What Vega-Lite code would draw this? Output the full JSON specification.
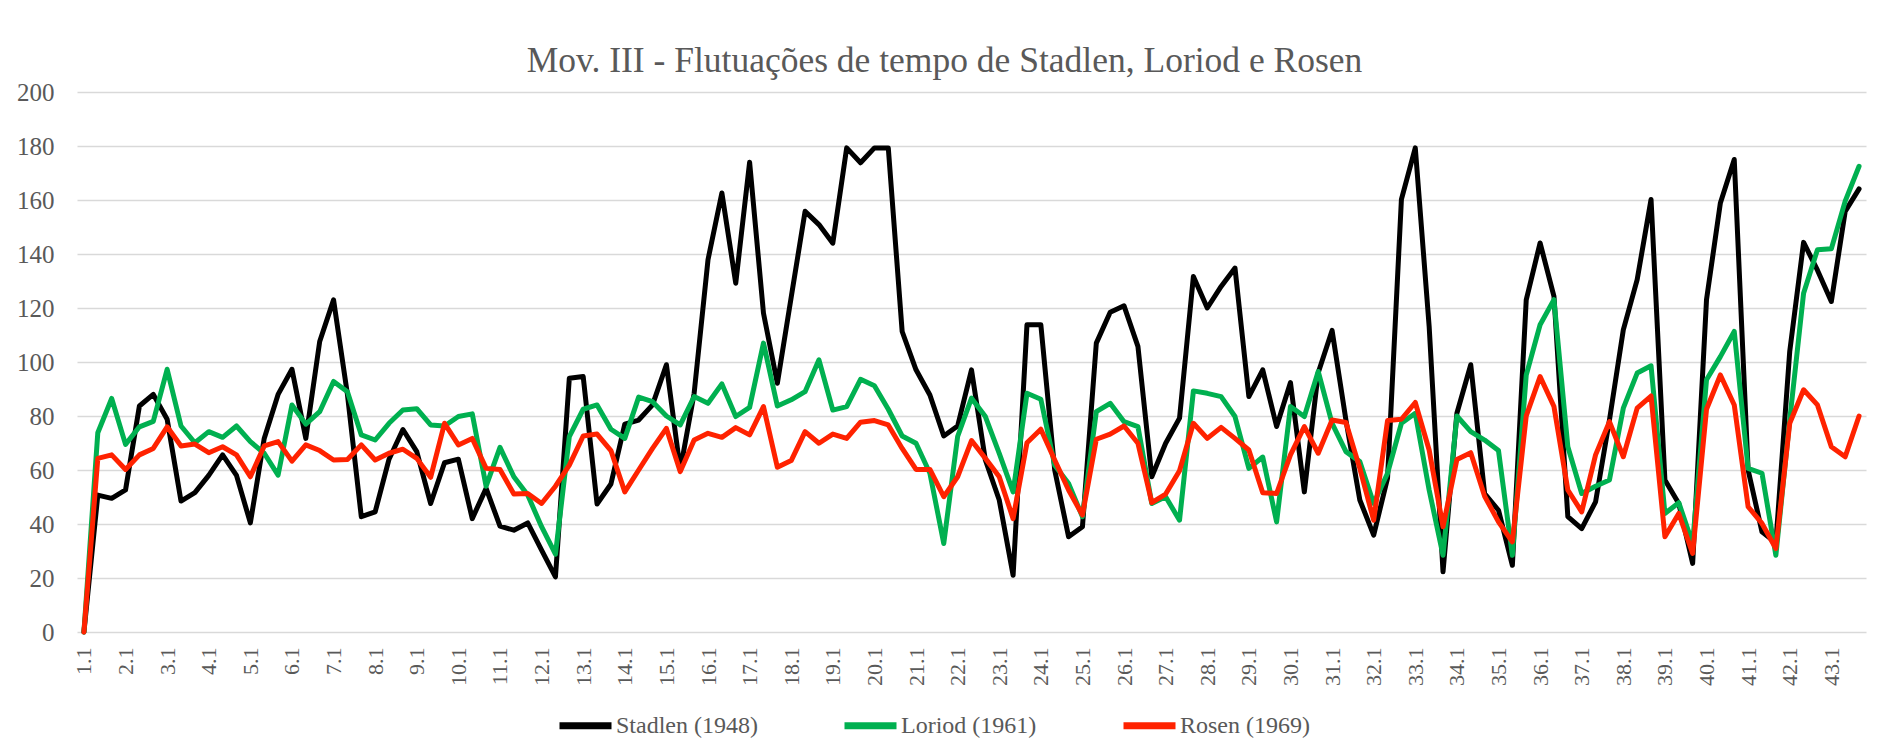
{
  "$schema": "https://vega.github.io/schema/vega-lite/v6.json",
  "width": 1789,
  "height": 540,
  "autosize": {"type": "none"},
  "padding": {"left": 77, "top": 92, "right": 12, "bottom": 107},
  "background": "white",
  "title": {
    "text": "Mov. III - Flutuações de tempo de Stadlen, Loriod e Rosen",
    "anchor": "middle",
    "frame": "group",
    "dx": -27,
    "offset": 1,
    "font": "Liberation Serif",
    "fontSize": 35.5,
    "fontWeight": "normal",
    "color": "#595959"
  },
  "data": {
    "values": [
      {"b": "1.1", "Stadlen (1948)": 0, "Loriod (1961)": 0, "Rosen (1969)": 0},
      {"b": "1.2", "Stadlen (1948)": 50.7, "Loriod (1961)": 73.8, "Rosen (1969)": 64.3},
      {"b": "1.3", "Stadlen (1948)": 49.5, "Loriod (1961)": 86.5, "Rosen (1969)": 65.6},
      {"b": "2.1", "Stadlen (1948)": 52.6, "Loriod (1961)": 69.5, "Rosen (1969)": 60.2},
      {"b": "2.2", "Stadlen (1948)": 83.7, "Loriod (1961)": 76, "Rosen (1969)": 65.6},
      {"b": "2.3", "Stadlen (1948)": 88, "Loriod (1961)": 78, "Rosen (1969)": 68},
      {"b": "3.1", "Stadlen (1948)": 78.8, "Loriod (1961)": 97.3, "Rosen (1969)": 76},
      {"b": "3.2", "Stadlen (1948)": 48.5, "Loriod (1961)": 76.3, "Rosen (1969)": 68.9},
      {"b": "3.3", "Stadlen (1948)": 51.6, "Loriod (1961)": 70.1, "Rosen (1969)": 69.6},
      {"b": "4.1", "Stadlen (1948)": 58, "Loriod (1961)": 74.2, "Rosen (1969)": 66.4},
      {"b": "4.2", "Stadlen (1948)": 65.6, "Loriod (1961)": 72.1, "Rosen (1969)": 68.6},
      {"b": "4.3", "Stadlen (1948)": 58, "Loriod (1961)": 76.3, "Rosen (1969)": 65.6},
      {"b": "5.1", "Stadlen (1948)": 40.4, "Loriod (1961)": 70.5, "Rosen (1969)": 57.5},
      {"b": "5.2", "Stadlen (1948)": 71.7, "Loriod (1961)": 66.2, "Rosen (1969)": 68.9},
      {"b": "5.3", "Stadlen (1948)": 88, "Loriod (1961)": 58.1, "Rosen (1969)": 70.5},
      {"b": "6.1", "Stadlen (1948)": 97.3, "Loriod (1961)": 84.1, "Rosen (1969)": 63.3},
      {"b": "6.2", "Stadlen (1948)": 71.7, "Loriod (1961)": 77, "Rosen (1969)": 69.3},
      {"b": "6.3", "Stadlen (1948)": 107.6, "Loriod (1961)": 81.6, "Rosen (1969)": 67.2},
      {"b": "7.1", "Stadlen (1948)": 123, "Loriod (1961)": 92.8, "Rosen (1969)": 63.7},
      {"b": "7.2", "Stadlen (1948)": 88, "Loriod (1961)": 89, "Rosen (1969)": 63.9},
      {"b": "7.3", "Stadlen (1948)": 42.7, "Loriod (1961)": 73, "Rosen (1969)": 69.3},
      {"b": "8.1", "Stadlen (1948)": 44.5, "Loriod (1961)": 71.1, "Rosen (1969)": 63.7},
      {"b": "8.2", "Stadlen (1948)": 64, "Loriod (1961)": 77.3, "Rosen (1969)": 66.2},
      {"b": "8.3", "Stadlen (1948)": 75, "Loriod (1961)": 82.2, "Rosen (1969)": 67.7},
      {"b": "9.1", "Stadlen (1948)": 66.8, "Loriod (1961)": 82.7, "Rosen (1969)": 64.3},
      {"b": "9.2", "Stadlen (1948)": 47.6, "Loriod (1961)": 76.7, "Rosen (1969)": 57.3},
      {"b": "9.3", "Stadlen (1948)": 62.7, "Loriod (1961)": 76.3, "Rosen (1969)": 77.3},
      {"b": "10.1", "Stadlen (1948)": 64, "Loriod (1961)": 79.8, "Rosen (1969)": 69.3},
      {"b": "10.2", "Stadlen (1948)": 42, "Loriod (1961)": 80.8, "Rosen (1969)": 71.7},
      {"b": "10.3", "Stadlen (1948)": 53.2, "Loriod (1961)": 54, "Rosen (1969)": 60.6},
      {"b": "11.1", "Stadlen (1948)": 39.2, "Loriod (1961)": 68.4, "Rosen (1969)": 60.2},
      {"b": "11.2", "Stadlen (1948)": 37.7, "Loriod (1961)": 57.5, "Rosen (1969)": 51.1},
      {"b": "11.3", "Stadlen (1948)": 40.4, "Loriod (1961)": 50.7, "Rosen (1969)": 51.3},
      {"b": "12.1", "Stadlen (1948)": 30.3, "Loriod (1961)": 39, "Rosen (1969)": 47.6},
      {"b": "12.2", "Stadlen (1948)": 20.4, "Loriod (1961)": 28.8, "Rosen (1969)": 54},
      {"b": "12.3", "Stadlen (1948)": 94, "Loriod (1961)": 72.4, "Rosen (1969)": 61.8},
      {"b": "13.1", "Stadlen (1948)": 94.6, "Loriod (1961)": 82.5, "Rosen (1969)": 72.6},
      {"b": "13.2", "Stadlen (1948)": 47.4, "Loriod (1961)": 84.1, "Rosen (1969)": 73.3},
      {"b": "13.3", "Stadlen (1948)": 54.8, "Loriod (1961)": 75.1, "Rosen (1969)": 67.2},
      {"b": "14.1", "Stadlen (1948)": 77, "Loriod (1961)": 71.7, "Rosen (1969)": 51.9},
      {"b": "14.2", "Stadlen (1948)": 78.5, "Loriod (1961)": 87, "Rosen (1969)": 60},
      {"b": "14.3", "Stadlen (1948)": 84.1, "Loriod (1961)": 85.3, "Rosen (1969)": 68},
      {"b": "15.1", "Stadlen (1948)": 99, "Loriod (1961)": 80, "Rosen (1969)": 75.4},
      {"b": "15.2", "Stadlen (1948)": 60, "Loriod (1961)": 76.7, "Rosen (1969)": 59.4},
      {"b": "15.3", "Stadlen (1948)": 88.4, "Loriod (1961)": 87.2, "Rosen (1969)": 71.1},
      {"b": "16.1", "Stadlen (1948)": 137.9, "Loriod (1961)": 84.7, "Rosen (1969)": 73.6},
      {"b": "16.2", "Stadlen (1948)": 162.6, "Loriod (1961)": 91.9, "Rosen (1969)": 72.1},
      {"b": "16.3", "Stadlen (1948)": 129.2, "Loriod (1961)": 79.8, "Rosen (1969)": 75.7},
      {"b": "17.1", "Stadlen (1948)": 174, "Loriod (1961)": 83.2, "Rosen (1969)": 73},
      {"b": "17.2", "Stadlen (1948)": 118.1, "Loriod (1961)": 107, "Rosen (1969)": 83.5},
      {"b": "17.3", "Stadlen (1948)": 92.1, "Loriod (1961)": 83.7, "Rosen (1969)": 61},
      {"b": "18.1", "Stadlen (1948)": 124, "Loriod (1961)": 86, "Rosen (1969)": 63.5},
      {"b": "18.2", "Stadlen (1948)": 155.8, "Loriod (1961)": 89, "Rosen (1969)": 74.2},
      {"b": "18.3", "Stadlen (1948)": 150.9, "Loriod (1961)": 100.8, "Rosen (1969)": 69.9},
      {"b": "19.1", "Stadlen (1948)": 144, "Loriod (1961)": 82.2, "Rosen (1969)": 73.3},
      {"b": "19.2", "Stadlen (1948)": 179.3, "Loriod (1961)": 83.5, "Rosen (1969)": 71.7},
      {"b": "19.3", "Stadlen (1948)": 173.8, "Loriod (1961)": 93.6, "Rosen (1969)": 77.7},
      {"b": "20.1", "Stadlen (1948)": 179.3, "Loriod (1961)": 91.2, "Rosen (1969)": 78.3},
      {"b": "20.2", "Stadlen (1948)": 179.3, "Loriod (1961)": 82.5, "Rosen (1969)": 76.7},
      {"b": "20.3", "Stadlen (1948)": 111.3, "Loriod (1961)": 72.6, "Rosen (1969)": 68},
      {"b": "21.1", "Stadlen (1948)": 97.1, "Loriod (1961)": 69.9, "Rosen (1969)": 60.2},
      {"b": "21.2", "Stadlen (1948)": 87.8, "Loriod (1961)": 58.8, "Rosen (1969)": 60.2},
      {"b": "21.3", "Stadlen (1948)": 72.6, "Loriod (1961)": 32.8, "Rosen (1969)": 50.1},
      {"b": "22.1", "Stadlen (1948)": 76.3, "Loriod (1961)": 72.4, "Rosen (1969)": 57.5},
      {"b": "22.2", "Stadlen (1948)": 97.1, "Loriod (1961)": 86.6, "Rosen (1969)": 70.9},
      {"b": "22.3", "Stadlen (1948)": 63.7, "Loriod (1961)": 79.8, "Rosen (1969)": 64.3},
      {"b": "23.1", "Stadlen (1948)": 48.9, "Loriod (1961)": 66.2, "Rosen (1969)": 57.5},
      {"b": "23.2", "Stadlen (1948)": 21, "Loriod (1961)": 51.9, "Rosen (1969)": 42},
      {"b": "23.3", "Stadlen (1948)": 113.8, "Loriod (1961)": 88.4, "Rosen (1969)": 70.1},
      {"b": "24.1", "Stadlen (1948)": 113.8, "Loriod (1961)": 86.2, "Rosen (1969)": 75.1},
      {"b": "24.2", "Stadlen (1948)": 60, "Loriod (1961)": 61.8, "Rosen (1969)": 63.7},
      {"b": "24.3", "Stadlen (1948)": 35.3, "Loriod (1961)": 55, "Rosen (1969)": 52.6},
      {"b": "25.1", "Stadlen (1948)": 39, "Loriod (1961)": 42.7, "Rosen (1969)": 43.3},
      {"b": "25.2", "Stadlen (1948)": 107, "Loriod (1961)": 81.6, "Rosen (1969)": 71.4},
      {"b": "25.3", "Stadlen (1948)": 118.4, "Loriod (1961)": 84.7, "Rosen (1969)": 73.3},
      {"b": "26.1", "Stadlen (1948)": 120.8, "Loriod (1961)": 77.9, "Rosen (1969)": 76.3},
      {"b": "26.2", "Stadlen (1948)": 105.8, "Loriod (1961)": 76.1, "Rosen (1969)": 69.9},
      {"b": "26.3", "Stadlen (1948)": 57.5, "Loriod (1961)": 47.6, "Rosen (1969)": 47.9},
      {"b": "27.1", "Stadlen (1948)": 69.9, "Loriod (1961)": 50.1, "Rosen (1969)": 51.1},
      {"b": "27.2", "Stadlen (1948)": 79.2, "Loriod (1961)": 41.4, "Rosen (1969)": 59.7},
      {"b": "27.3", "Stadlen (1948)": 131.7, "Loriod (1961)": 89.3, "Rosen (1969)": 77.3},
      {"b": "28.1", "Stadlen (1948)": 120, "Loriod (1961)": 88.4, "Rosen (1969)": 71.7},
      {"b": "28.2", "Stadlen (1948)": 128, "Loriod (1961)": 87.2, "Rosen (1969)": 75.8},
      {"b": "28.3", "Stadlen (1948)": 134.8, "Loriod (1961)": 79.8, "Rosen (1969)": 71.7},
      {"b": "29.1", "Stadlen (1948)": 87.2, "Loriod (1961)": 60.6, "Rosen (1969)": 67.4},
      {"b": "29.2", "Stadlen (1948)": 97.1, "Loriod (1961)": 64.8, "Rosen (1969)": 51.6},
      {"b": "29.3", "Stadlen (1948)": 76.1, "Loriod (1961)": 40.8, "Rosen (1969)": 51.3},
      {"b": "30.1", "Stadlen (1948)": 92.4, "Loriod (1961)": 83.5, "Rosen (1969)": 65.6},
      {"b": "30.2", "Stadlen (1948)": 51.9, "Loriod (1961)": 79.8, "Rosen (1969)": 76.1},
      {"b": "30.3", "Stadlen (1948)": 96, "Loriod (1961)": 96.5, "Rosen (1969)": 66.2},
      {"b": "31.1", "Stadlen (1948)": 111.7, "Loriod (1961)": 77.3, "Rosen (1969)": 78.5},
      {"b": "31.2", "Stadlen (1948)": 78.5, "Loriod (1961)": 66.8, "Rosen (1969)": 77.6},
      {"b": "31.3", "Stadlen (1948)": 48.9, "Loriod (1961)": 63.1, "Rosen (1969)": 60.6},
      {"b": "32.1", "Stadlen (1948)": 35.9, "Loriod (1961)": 47.6, "Rosen (1969)": 41.4},
      {"b": "32.2", "Stadlen (1948)": 57, "Loriod (1961)": 58.8, "Rosen (1969)": 78.3},
      {"b": "32.3", "Stadlen (1948)": 160.2, "Loriod (1961)": 77.3, "Rosen (1969)": 78.8},
      {"b": "33.1", "Stadlen (1948)": 179.3, "Loriod (1961)": 81, "Rosen (1969)": 85},
      {"b": "33.2", "Stadlen (1948)": 113.2, "Loriod (1961)": 52.6, "Rosen (1969)": 67.4},
      {"b": "33.3", "Stadlen (1948)": 22.3, "Loriod (1961)": 28.4, "Rosen (1969)": 39},
      {"b": "34.1", "Stadlen (1948)": 81, "Loriod (1961)": 80, "Rosen (1969)": 63.9},
      {"b": "34.2", "Stadlen (1948)": 99, "Loriod (1961)": 74.2, "Rosen (1969)": 66.4},
      {"b": "34.3", "Stadlen (1948)": 51.3, "Loriod (1961)": 71.1, "Rosen (1969)": 50.3},
      {"b": "35.1", "Stadlen (1948)": 45.1, "Loriod (1961)": 67.2, "Rosen (1969)": 40.8},
      {"b": "35.2", "Stadlen (1948)": 24.7, "Loriod (1961)": 28.4, "Rosen (1969)": 33.4},
      {"b": "35.3", "Stadlen (1948)": 123, "Loriod (1961)": 95.2, "Rosen (1969)": 80},
      {"b": "36.1", "Stadlen (1948)": 144.1, "Loriod (1961)": 113.8, "Rosen (1969)": 94.6},
      {"b": "36.2", "Stadlen (1948)": 124.3, "Loriod (1961)": 123.1, "Rosen (1969)": 83.5},
      {"b": "36.3", "Stadlen (1948)": 42.7, "Loriod (1961)": 68.6, "Rosen (1969)": 52.6},
      {"b": "37.1", "Stadlen (1948)": 38.3, "Loriod (1961)": 51.3, "Rosen (1969)": 44.5},
      {"b": "37.2", "Stadlen (1948)": 48.2, "Loriod (1961)": 54, "Rosen (1969)": 65.6},
      {"b": "37.3", "Stadlen (1948)": 78.5, "Loriod (1961)": 56.3, "Rosen (1969)": 77.9},
      {"b": "38.1", "Stadlen (1948)": 111.9, "Loriod (1961)": 82.9, "Rosen (1969)": 64.9},
      {"b": "38.2", "Stadlen (1948)": 130.5, "Loriod (1961)": 95.9, "Rosen (1969)": 82.9},
      {"b": "38.3", "Stadlen (1948)": 160.2, "Loriod (1961)": 98.6, "Rosen (1969)": 87.4},
      {"b": "39.1", "Stadlen (1948)": 56.3, "Loriod (1961)": 43.9, "Rosen (1969)": 35.3},
      {"b": "39.2", "Stadlen (1948)": 47.6, "Loriod (1961)": 47.9, "Rosen (1969)": 43.9},
      {"b": "39.3", "Stadlen (1948)": 25.4, "Loriod (1961)": 32.8, "Rosen (1969)": 29.1},
      {"b": "40.1", "Stadlen (1948)": 123.1, "Loriod (1961)": 93.4, "Rosen (1969)": 82.5},
      {"b": "40.2", "Stadlen (1948)": 158.9, "Loriod (1961)": 102, "Rosen (1969)": 95.2},
      {"b": "40.3", "Stadlen (1948)": 175, "Loriod (1961)": 111.3, "Rosen (1969)": 84.1},
      {"b": "41.1", "Stadlen (1948)": 60, "Loriod (1961)": 60.6, "Rosen (1969)": 46.4},
      {"b": "41.2", "Stadlen (1948)": 37.1, "Loriod (1961)": 58.8, "Rosen (1969)": 40.2},
      {"b": "41.3", "Stadlen (1948)": 33, "Loriod (1961)": 28.4, "Rosen (1969)": 30.9},
      {"b": "42.1", "Stadlen (1948)": 103.9, "Loriod (1961)": 78.5, "Rosen (1969)": 77.3},
      {"b": "42.2", "Stadlen (1948)": 144.3, "Loriod (1961)": 125.5, "Rosen (1969)": 89.7},
      {"b": "42.3", "Stadlen (1948)": 134, "Loriod (1961)": 141.6, "Rosen (1969)": 84.1},
      {"b": "43.1", "Stadlen (1948)": 122.4, "Loriod (1961)": 141.9, "Rosen (1969)": 68.6},
      {"b": "43.2", "Stadlen (1948)": 155.8, "Loriod (1961)": 159.6, "Rosen (1969)": 64.9},
      {"b": "43.3", "Stadlen (1948)": 164.1, "Loriod (1961)": 172.5, "Rosen (1969)": 80}
    ]
  },
  "transform": [
    {"fold": ["Stadlen (1948)", "Loriod (1961)", "Rosen (1969)"], "as": ["performer", "tempo"]}
  ],
  "mark": {"type": "line", "strokeWidth": 5, "strokeJoin": "round", "strokeCap": "round"},
  "encoding": {
    "x": {
      "field": "b",
      "type": "ordinal",
      "sort": null,
      "scale": {"padding": 0.5},
      "axis": {
        "title": null,
        "labelAngle": 270,
        "labelExpr": "slice(datum.value, -2) == '.1' ? datum.value : ''",
        "labelOverlap": false,
        "ticks": false,
        "domain": false,
        "grid": false,
        "labelPadding": 15,
        "labelFont": "Liberation Serif",
        "labelFontSize": 22,
        "labelColor": "#595959"
      }
    },
    "y": {
      "field": "tempo",
      "type": "quantitative",
      "scale": {"domain": [0, 200]},
      "axis": {
        "title": null,
        "values": [0, 20, 40, 60, 80, 100, 120, 140, 160, 180, 200],
        "ticks": false,
        "domain": false,
        "gridColor": "#d9d9d9",
        "gridWidth": 1.5,
        "labelPadding": 23,
        "labelFont": "Liberation Serif",
        "labelFontSize": 25,
        "labelColor": "#595959"
      }
    },
    "color": {
      "field": "performer",
      "type": "nominal",
      "scale": {
        "domain": ["Stadlen (1948)", "Loriod (1961)", "Rosen (1969)"],
        "range": ["#000000", "#00b050", "#ff2200"]
      },
      "legend": {
        "title": null,
        "orient": "none",
        "legendX": 479,
        "legendY": 604,
        "direction": "horizontal",
        "columns": 3,
        "symbolType": "stroke",
        "symbolSize": 2704,
        "symbolStrokeWidth": 7,
        "labelFont": "Liberation Serif",
        "labelFontSize": 24,
        "labelColor": "#595959",
        "columnPadding": 72,
        "labelOffset": 1,
        "padding": 0
      }
    }
  },
  "config": {"view": {"stroke": null}}
}
